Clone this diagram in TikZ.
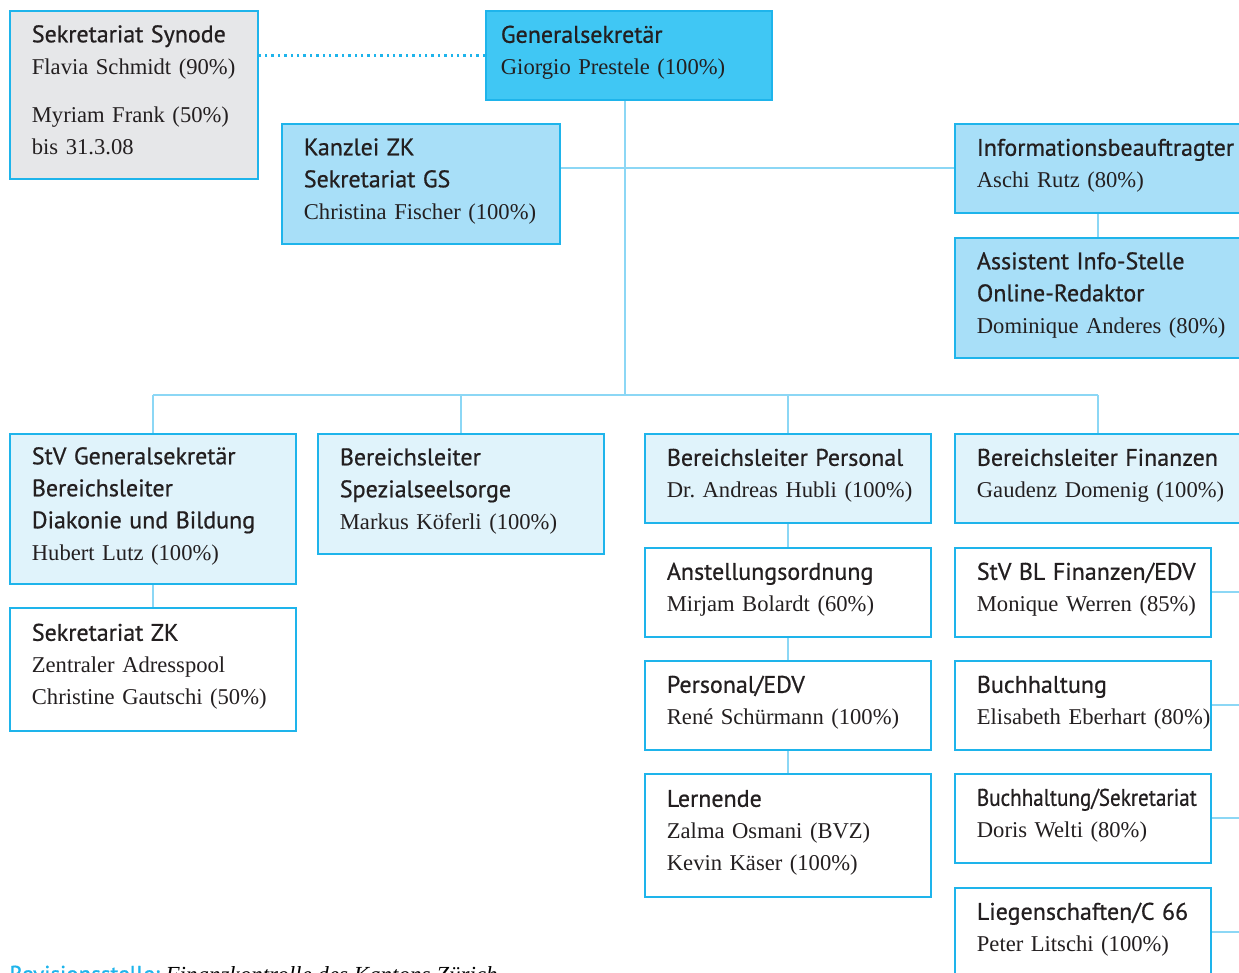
\documentclass[tikz,border=0pt]{standalone}
\usepackage{fontspec}
\usepackage{graphicx}
\setmainfont{Liberation Serif}
\newfontfamily\headfont{PT Sans}[FakeBold=0.7]
\usetikzlibrary{positioning}
\definecolor{boxline}{RGB}{30, 180, 235}
\definecolor{linkc}{RGB}{140, 215, 245}
\definecolor{gsfill}{RGB}{64, 199, 244}
\definecolor{midfill}{RGB}{168, 223, 248}
\definecolor{lightfill}{RGB}{224, 243, 251}
\definecolor{grayfill}{RGB}{230, 231, 233}
\definecolor{ink}{RGB}{35, 31, 32}
\frenchspacing
\newcommand\hd[1]{{\headfont\fontsize{12}{16}\selectfont #1}}
\newcommand\orgcard[1]{\begin{tabular}{@{}l@{}}#1\\[3pt]\end{tabular}}

\begin{document}
\begin{tikzpicture}[x=0.5pt, y=-0.5pt,
    orgbox/.style 2 args={draw=boxline, line width=0.9pt, anchor=north west, inner xsep=11pt, inner ysep=0pt, text width=#1, minimum height=#2, align=left, font=\fontsize{11.3}{16}\selectfont, text=ink},
    link/.style={draw=linkc, line width=1pt}]
        \useasboundingbox (0,0) rectangle (1239,973);

        % Top level
        \node[orgbox={102pt}{84pt}, fill=grayfill] (syn) at (9,10) {\orgcard{\hd{Sekretariat Synode}\\Flavia Schmidt (90\%)\\[8pt]Myriam Frank (50\%)\\bis 31.3.08}};
        \node[orgbox={128pt}{44.5pt}, inner xsep=7.5pt, fill=gsfill] (gs) at (485,10) {\orgcard{\hd{Generalsekretär}\\Giorgio Prestele (100\%)}};
        \node[orgbox={117pt}{60pt}, fill=midfill] (kz) at (281,123) {\orgcard{\hd{Kanzlei ZK}\\\hd{Sekretariat GS}\\Christina Fischer (100\%)}};
        \node[orgbox={121pt}{44.5pt}, fill=midfill] (info) at (954,123) {\orgcard{\hd{Informationsbeauftragter}\\Aschi Rutz (80\%)}};
        \node[orgbox={121pt}{60pt}, fill=midfill] (ass) at (954,237) {\orgcard{\hd{Assistent Info-Stelle}\\\hd{Online-Redaktor}\\Dominique Anderes (80\%)}};

        % Bereiche
        \node[orgbox={121pt}{75pt}, fill=lightfill] (stv) at (9,433) {\orgcard{\hd{StV Generalsekretär}\\\hd{Bereichsleiter}\\\hd{Diakonie und Bildung}\\Hubert Lutz (100\%)}};
        \node[orgbox={121pt}{60pt}, fill=lightfill] (spez) at (317,433) {\orgcard{\hd{Bereichsleiter}\\\hd{Spezialseelsorge}\\Markus Köferli (100\%)}};
        \node[orgbox={121pt}{44.5pt}, fill=lightfill] (pers) at (644,433) {\orgcard{\hd{Bereichsleiter Personal}\\Dr. Andreas Hubli (100\%)}};
        \node[orgbox={121pt}{44.5pt}, fill=lightfill] (fin) at (954,433) {\orgcard{\hd{Bereichsleiter Finanzen}\\Gaudenz Domenig (100\%)}};

        % Stellen
        \node[orgbox={121pt}{61.5pt}, fill=white] (sekzk) at (9,607) {\orgcard{\hd{Sekretariat ZK}\\Zentraler Adresspool\\Christine Gautschi (50\%)}};
        \node[orgbox={121pt}{44.5pt}, fill=white] (anst) at (644,547) {\orgcard{\hd{Anstellungsordnung}\\Mirjam Bolardt (60\%)}};
        \node[orgbox={121pt}{44.5pt}, fill=white] (edv) at (644,660) {\orgcard{\hd{Personal/EDV}\\René Schürmann (100\%)}};
        \node[orgbox={121pt}{61.5pt}, fill=white] (lern) at (644,773) {\orgcard{\hd{Lernende}\\Zalma Osmani (BVZ)\\Kevin Käser (100\%)}};
        \node[orgbox={106pt}{44.5pt}, fill=white] (stvbl) at (954,547) {\orgcard{\hd{StV BL Finanzen/EDV}\\Monique Werren (85\%)}};
        \node[orgbox={106pt}{44.5pt}, fill=white] (buch) at (954,660) {\orgcard{\hd{Buchhaltung}\\Elisabeth Eberhart (80\%)}};
        \node[orgbox={106pt}{44.5pt}, fill=white] (buchsek) at (954,773) {\orgcard{\scalebox{0.88}[1]{\hd{Buchhaltung/Sekretariat}}\\Doris Welti (80\%)}};
        \node[orgbox={106pt}{44.5pt}, fill=white] (lieg) at (954,887) {\orgcard{\hd{Liegenschaften/C 66}\\Peter Litschi (100\%)}};

        \node[anchor=base west, inner sep=0pt, font=\fontsize{11.5}{16}\selectfont] (rev) at (9,982) {\textcolor{boxline}{\headfont Revisionsstelle:} \textit{Finanzkontrolle des Kantons Zürich}};

        % Connectors
        \coordinate (bus) at (625,395);
        \coordinate (rbus) at (1260,0);
        \draw[draw=boxline, line width=1.2pt, dotted] (gs.west) -- (gs.west -| syn.east);
        \draw[link] (gs.south -| bus) -- (bus);
        \draw[link] (kz.east |- info.west) -- (info.west);
        \draw[link] (info.south) -- (ass.north);
        \draw[link] (stv.north |- bus) -- (fin.north |- bus);
        \foreach \n in {stv, spez, pers, fin}
            \draw[link] (\n.north |- bus) -- (\n.north);
        \draw[link] (stv.south) -- (sekzk.north);
        \draw[link] (pers.south) -- (anst.north);
        \draw[link] (anst.south) -- (edv.north);
        \draw[link] (edv.south) -- (lern.north);
        \foreach \n in {stvbl, buch, buchsek, lieg}
            \draw[link] (\n.east) -- (\n.east -| rbus);
    \end{tikzpicture}
\end{document}
